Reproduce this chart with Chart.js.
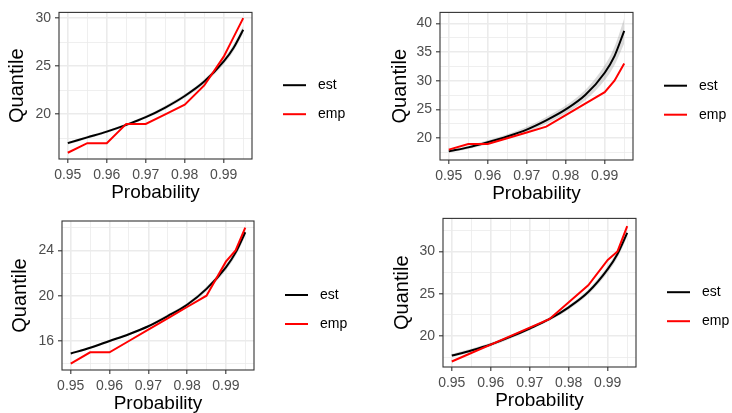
<!DOCTYPE html>
<html>
<head>
<meta charset="utf-8">
<script src="https://cdn.jsdelivr.net/npm/chart.js@4"></script>
<style>
  html, body { margin: 0; padding: 0; background: #fff; width: 732px; height: 413px; overflow: hidden; }
  canvas { position: absolute; }
</style>
</head>
<body>
<canvas id="p1"></canvas>
<canvas id="p2"></canvas>
<canvas id="p3"></canvas>
<canvas id="p4"></canvas>
<script>
// probabilities where quantiles were evaluated
const probs = [0.95, 0.955, 0.96, 0.965, 0.97, 0.975, 0.98, 0.985, 0.99, 0.9925, 0.995];

// x axis breaks (major get labels, the others are minor grid only)
const xBreaks = [0.95, 0.955, 0.96, 0.965, 0.97, 0.975, 0.98, 0.985, 0.99, 0.995];
const xLabels = [0.95, 0.96, 0.97, 0.98, 0.99];

// panel 1 (top left)
const est1 = [17.0, 17.6, 18.2, 18.9, 19.7, 20.7, 21.9, 23.4, 25.5, 26.9, 28.8];
const lo1  = [16.85, 17.45, 18.05, 18.75, 19.55, 20.5, 21.7, 23.15, 25.2, 26.55, 28.4];
const hi1  = [17.15, 17.75, 18.35, 19.05, 19.85, 20.9, 22.1, 23.65, 25.8, 27.25, 29.2];
const emp1 = [16, 17, 17, 19, 19, 20, 21, 23, 26, 28, 30];
const yBreaks1 = [17.5, 20, 22.5, 25, 27.5, 30];
const yLabels1 = [20, 25, 30];

// panel 2 (top right)
const est2 = [17.7, 18.4, 19.3, 20.3, 21.5, 23.1, 25.0, 27.5, 31.4, 34.3, 38.7];
const lo2  = [17.45, 18.1, 18.95, 19.9, 21.0, 22.5, 24.3, 26.6, 30.1, 32.7, 36.5];
const hi2  = [17.95, 18.7, 19.65, 20.7, 22.0, 23.7, 25.7, 28.4, 32.7, 35.9, 40.9];
const emp2 = [18, 19, 19, 20, 21, 22, 24, 26, 28, 30, 33];
const yBreaks2 = [17.5, 20, 22.5, 25, 27.5, 30, 32.5, 35, 37.5, 40];
const yLabels2 = [20, 25, 30, 35, 40];

// panel 3 (bottom left)
const est3 = [14.9, 15.4, 16.0, 16.6, 17.3, 18.2, 19.2, 20.6, 22.5, 23.8, 25.6];
const lo3  = [14.8, 15.3, 15.9, 16.5, 17.2, 18.05, 19.05, 20.4, 22.25, 23.5, 25.25];
const hi3  = [15.0, 15.5, 16.1, 16.7, 17.4, 18.35, 19.35, 20.8, 22.75, 24.1, 25.95];
const emp3 = [14, 15, 15, 16, 17, 18, 19, 20, 23, 24, 26];
const yBreaks3 = [14, 16, 18, 20, 22, 24, 26];
const yLabels3 = [16, 20, 24];

// panel 4 (bottom right)
const est4 = [17.7, 18.3, 19.0, 19.9, 20.9, 22.0, 23.4, 25.2, 27.9, 29.7, 32.2];
const lo4  = [17.5, 18.1, 18.8, 19.7, 20.7, 21.8, 23.15, 24.9, 27.5, 29.25, 31.7];
const hi4  = [17.9, 18.5, 19.2, 20.1, 21.1, 22.2, 23.65, 25.5, 28.3, 30.15, 32.7];
const emp4 = [17, 18, 19, 20, 21, 22, 24, 26, 29, 30, 33];
const yBreaks4 = [17.5, 20, 22.5, 25, 27.5, 30, 32.5];
const yLabels4 = [20, 25, 30];

Chart.defaults.font.family = "'Liberation Sans', Arial, sans-serif";
Chart.defaults.animation = false;

const pts = ys => ys.map((y, i) => ({ x: probs[i], y: y }));

// ggplot-like panel border on top of everything
const panelBorder = {
  id: 'panelBorder',
  afterDatasetsDraw(chart) {
    const { ctx, chartArea: a } = chart;
    ctx.save();
    ctx.strokeStyle = '#333333';
    ctx.lineWidth = 1.1;
    ctx.strokeRect(a.left, a.top, a.right - a.left, a.bottom - a.top);
    ctx.restore();
  }
};

// legend to the right of the panel, lines + labels
const sideLegend = {
  id: 'sideLegend',
  afterDraw(chart) {
    const { ctx, chartArea: a } = chart;
    const items = chart.data.datasets.filter(d => d.label);
    const mid = (a.top + a.bottom) / 2 + 14;
    ctx.save();
    ctx.font = "14px 'Liberation Sans', Arial, sans-serif";
    ctx.textBaseline = 'middle';
    items.forEach((d, i) => {
      const y = mid + (i - (items.length - 1) / 2) * 29;
      const x = a.right + 31;
      ctx.strokeStyle = d.borderColor;
      ctx.lineWidth = 2;
      ctx.beginPath();
      ctx.moveTo(x, y);
      ctx.lineTo(x + 23, y);
      ctx.stroke();
      ctx.fillStyle = '#000000';
      ctx.fillText(d.label, x + 35, y);
    });
    ctx.restore();
  }
};

function makePanel(p) {
  const cv = document.getElementById(p.id);
  cv.style.left = p.box[0] + 'px';
  cv.style.top = p.box[1] + 'px';
  cv.width = p.box[2];
  cv.height = p.box[3];
  const [l, t, r, b] = p.plot;
  const W = p.box[2], H = p.box[3];
  const xAxisH = 46;

  return new Chart(cv, {
    type: 'line',
    data: {
      datasets: [
        { data: pts(p.lo), borderWidth: 0, pointRadius: 0, fill: false, cubicInterpolationMode: 'monotone', order: 3 },
        { data: pts(p.hi), borderWidth: 0, pointRadius: 0, fill: '-1', backgroundColor: 'rgba(153,153,153,0.35)', cubicInterpolationMode: 'monotone', order: 2 },
        { label: 'est', data: pts(p.est), borderColor: '#000000', borderWidth: 2, pointRadius: 0, fill: false, cubicInterpolationMode: 'monotone', order: 1 },
        { label: 'emp', data: pts(p.emp), borderColor: '#FF0000', borderWidth: 2, pointRadius: 0, fill: false, tension: 0, order: 0 }
      ]
    },
    options: {
      responsive: false,
      devicePixelRatio: 1,
      layout: { autoPadding: false, padding: { left: 0, top: t, right: W - r, bottom: H - b - xAxisH } },
      plugins: { legend: { display: false }, tooltip: { enabled: false } },
      scales: {
        x: {
          type: 'linear',
          min: 0.94775,
          max: 0.99725,
          afterBuildTicks: s => { s.ticks = xBreaks.map(v => ({ value: v })); },
          afterFit: s => { s.height = xAxisH; },
          ticks: {
            autoSkip: false,
            maxRotation: 0,
            padding: 3.5,
            color: '#4D4D4D',
            font: { size: 14 },
            callback: v => xLabels.includes(v) ? String(v) : ''
          },
          grid: {
            color: '#EBEBEB',
            lineWidth: c => (c.tick && xLabels.includes(c.tick.value)) ? 1.6 : 0.8,
            tickColor: c => (c.tick && xLabels.includes(c.tick.value)) ? '#333333' : 'rgba(0,0,0,0)',
            tickWidth: 1.1,
            tickLength: 4
          },
          border: { display: false },
          title: { display: true, text: 'Probability', color: '#000000', font: { size: 19 }, padding: { top: 0, bottom: 1 } }
        },
        y: {
          min: p.yMin,
          max: p.yMax,
          afterBuildTicks: s => { s.ticks = p.yBreaks.map(v => ({ value: v })); },
          afterFit: s => { s.width = l; },
          ticks: {
            autoSkip: false,
            padding: 4,
            color: '#4D4D4D',
            font: { size: 14 },
            callback: v => p.yLabels.includes(v) ? String(v) : ''
          },
          grid: {
            color: '#EBEBEB',
            lineWidth: c => (c.tick && p.yLabels.includes(c.tick.value)) ? 1.6 : 0.8,
            tickColor: c => (c.tick && p.yLabels.includes(c.tick.value)) ? '#333333' : 'rgba(0,0,0,0)',
            tickWidth: 1.1,
            tickLength: 4
          },
          border: { display: false },
          title: { display: true, text: 'Quantile', color: '#000000', font: { size: 20 }, padding: { top: p.yTitleX - 12, bottom: 0 } }
        }
      }
    },
    plugins: [panelBorder, sideLegend]
  });
}

makePanel({ id: 'p1', box: [0, 0, 366, 210], plot: [59, 11, 252, 159], yMin: 15.35, yMax: 30.6, yTitleX: 17,
  est: est1, lo: lo1, hi: hi1, emp: emp1, yBreaks: yBreaks1, yLabels: yLabels1 });
makePanel({ id: 'p2', box: [366, 0, 366, 210], plot: [74, 11, 267, 160], yMin: 16.2, yMax: 41.9, yTitleX: 34.5,
  est: est2, lo: lo2, hi: hi2, emp: emp2, yBreaks: yBreaks2, yLabels: yLabels2 });
makePanel({ id: 'p3', box: [0, 206, 366, 210], plot: [62, 15, 254, 164], yMin: 13.44, yMax: 26.59, yTitleX: 20,
  est: est3, lo: lo3, hi: hi3, emp: emp3, yBreaks: yBreaks3, yLabels: yLabels3 });
makePanel({ id: 'p4', box: [366, 206, 366, 210], plot: [77, 12, 270, 161], yMin: 16.35, yMax: 33.9, yTitleX: 36,
  est: est4, lo: lo4, hi: hi4, emp: emp4, yBreaks: yBreaks4, yLabels: yLabels4 });
</script>
</body>
</html>
